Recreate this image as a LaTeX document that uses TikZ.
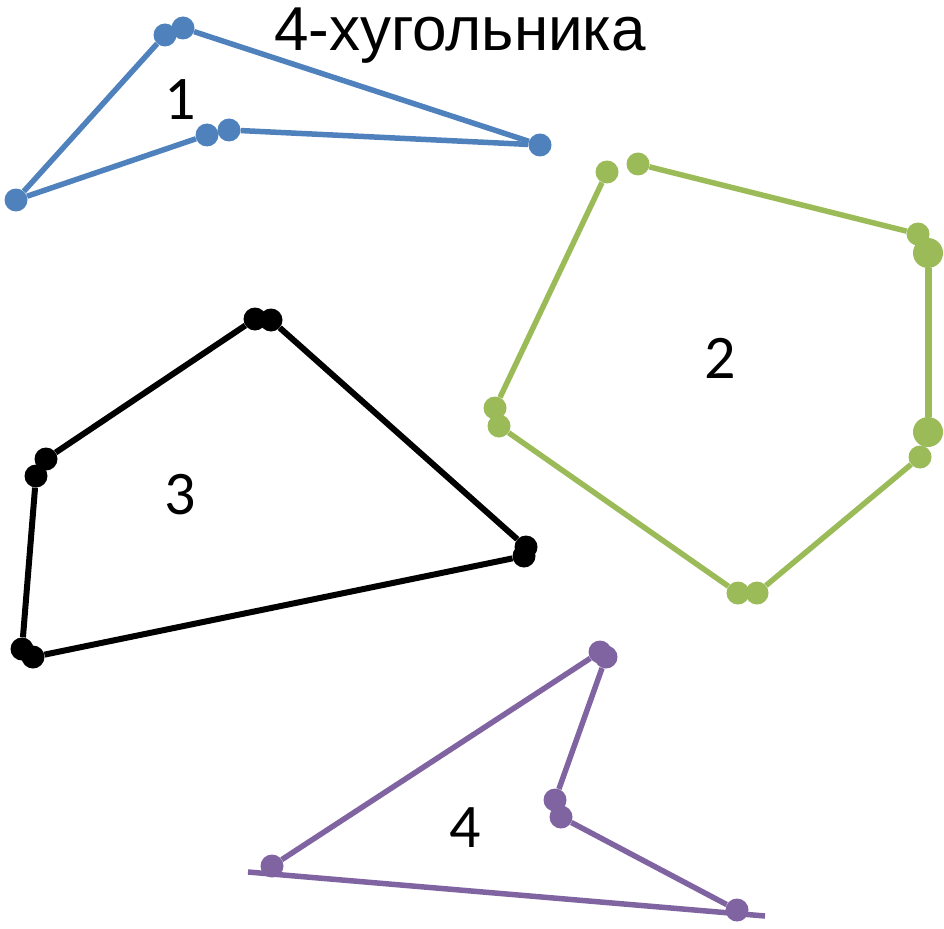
\documentclass[tikz,border=0pt]{standalone}
\usepackage{fontspec}
\setmainfont{Carlito}
\newfontfamily\arialfont{Liberation Sans}
\definecolor{blu}{HTML}{4F81BD}
\definecolor{grn}{HTML}{9BBB59}
\definecolor{prp}{HTML}{8064A2}
\begin{document}
\begin{tikzpicture}[x=1pt, y=-1pt, every node/.style={font=\fontsize{62}{70}\selectfont},
    d/.style={circle, fill, inner sep=0pt, minimum size=23pt},
    bd/.style={circle, fill, inner sep=0pt, minimum size=30pt},
    seg/.style={line width=5.5pt}]
        \useasboundingbox (0, 0) rectangle (944, 928);

        % 1
        \node[d, blu] (a1) at (16, 200) {};
        \node[d, blu] (a2) at (165, 35) {};
        \node[d, blu] (a3) at (183, 28) {};
        \node[d, blu] (a4) at (540, 145) {};
        \node[d, blu] (a5) at (229, 130) {};
        \node[d, blu] (a6) at (207, 135) {};
        \draw[seg, blu] (a1) -- (a2);
        \draw[seg, blu] (a3) -- (a4);
        \draw[seg, blu] (a4) -- (a5);
        \draw[seg, blu] (a6) -- (a1);
        \node (t1) at (180, 100) {1};

        % 2
        \node[d, grn] (b1) at (607, 172) {};
        \node[d, grn] (b2) at (638, 164) {};
        \node[d, grn] (b3) at (918, 234) {};
        \node[bd, grn] (b4) at (928, 253) {};
        \node[bd, grn] (b5) at (928, 432) {};
        \node[d, grn] (b6) at (920, 457) {};
        \node[d, grn] (b7) at (757, 593) {};
        \node[d, grn] (b8) at (738, 593) {};
        \node[d, grn] (b9) at (499, 426) {};
        \node[d, grn] (b10) at (495, 408) {};
        \draw[seg, grn] (b1) -- (b10);
        \draw[seg, grn] (b2) -- (b3);
        \draw[line width=7pt, grn] (b4) -- (b5);
        \draw[seg, grn] (b6) -- (b7);
        \draw[seg, grn] (b8) -- (b9);
        \node (t2) at (720, 358) {2};

        % 3
        \node[d] (c1) at (255, 319) {};
        \node[d] (c2) at (271, 320) {};
        \node[d] (c3) at (526, 547) {};
        \node[d] (c4) at (524, 556) {};
        \node[d] (c5) at (33, 657) {};
        \node[d] (c6) at (22, 649) {};
        \node[d] (c7) at (36, 476) {};
        \node[d] (c8) at (46, 459) {};
        \draw[line width=6pt] (c1) -- (c8);
        \draw[line width=6pt] (c2) -- (c3);
        \draw[line width=6pt] (c4) -- (c5);
        \draw[line width=6pt] (c6) -- (c7);
        \node (t3) at (180, 495) {3};

        % 4
        \coordinate (p0) at (248, 872);
        \coordinate (p9) at (765, 916);
        \draw[seg, prp] (p0) -- (p9);
        \node[d, prp] (p1) at (272, 866) {};
        \node[d, prp] (p2) at (600, 652) {};
        \node[d, prp] (p3) at (606, 657) {};
        \node[d, prp] (p4) at (555, 800) {};
        \node[d, prp] (p5) at (561, 817) {};
        \node[d, prp] (p6) at (737, 910) {};
        \draw[seg, prp] (p1) -- (p2);
        \draw[seg, prp] (p3) -- (p4);
        \draw[seg, prp] (p5) -- (p6);
        \node (t4) at (465, 828) {4};

        \node[font=\arialfont\fontsize{62}{70}\selectfont, anchor=base] (title) at (460, 51) {4-хугольника};
    \end{tikzpicture}
\end{document}
